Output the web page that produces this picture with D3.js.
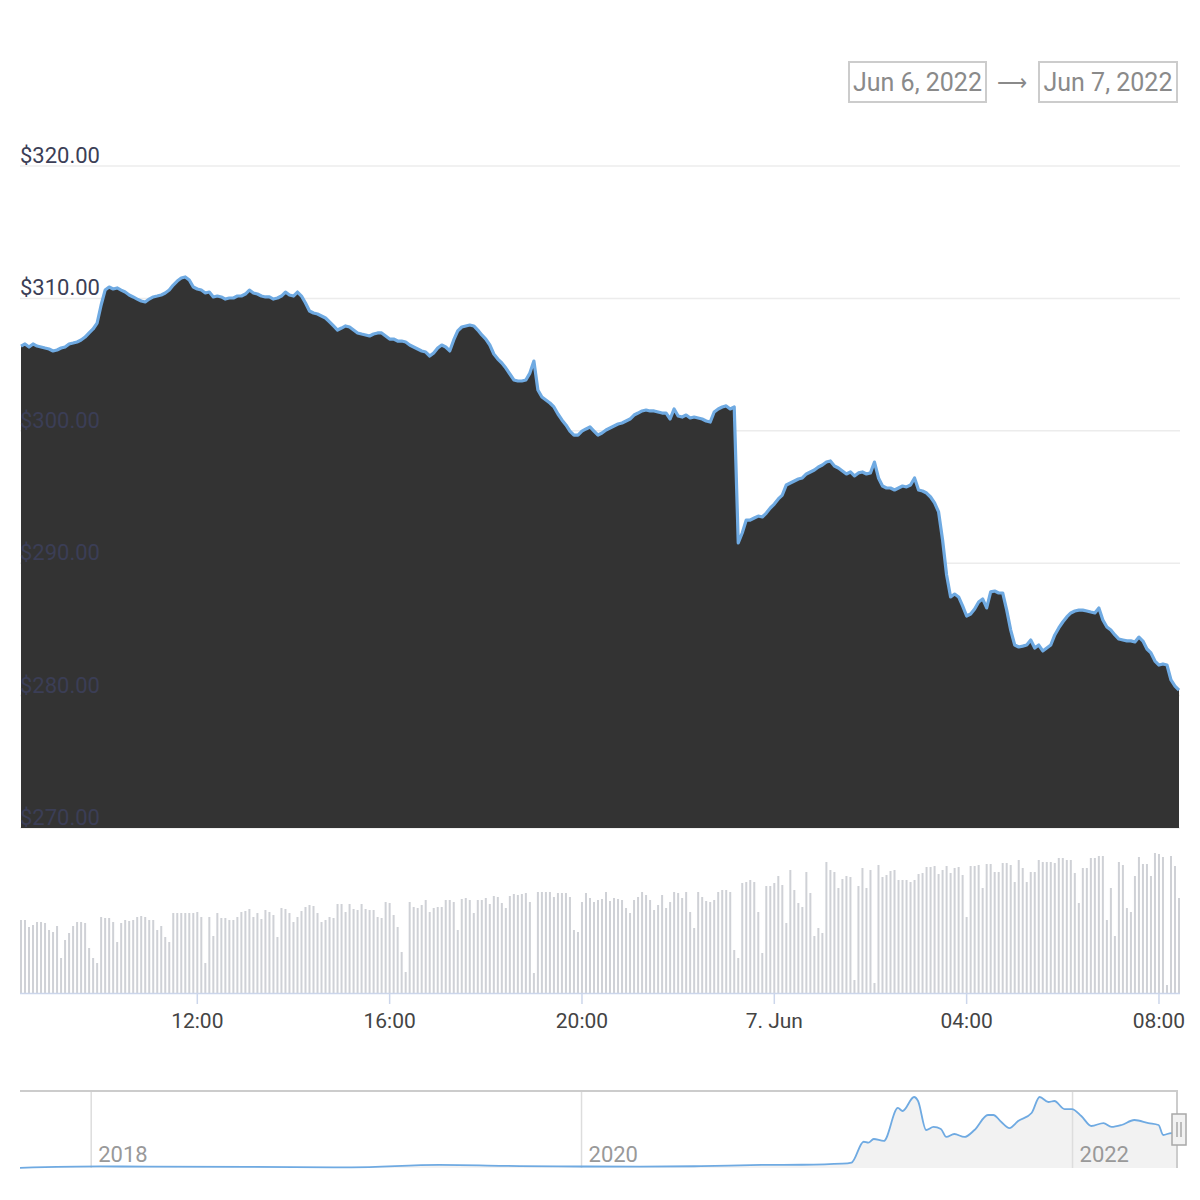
<!DOCTYPE html>
<html>
<head>
<meta charset="utf-8">
<script src="https://cdn.jsdelivr.net/npm/d3@7"></script>
<style>
  body { margin: 0; background: #fff; }
  svg { font-family: Roboto, "Noto Sans", sans-serif; display: block; }
</style>
</head>
<body>
<div id="chart"></div>
<script>
// price, 5 minute steps starting Jun 6 2022 08:20
const startTime = "2022-06-06T08:20:00Z";
const stepMinutes = 5;
const prices = [
  306.40,306.56,306.33,306.56,306.40,306.33,306.25,306.18,306.03,306.10,
  306.25,306.33,306.56,306.63,306.71,306.86,307.08,307.39,307.69,308.14,
  309.50,310.63,310.86,310.71,310.79,310.63,310.48,310.26,310.11,309.95,
  309.80,309.73,309.95,310.11,310.18,310.26,310.41,310.63,311.01,311.31,
  311.54,311.62,311.39,310.86,310.71,310.63,310.41,310.48,310.11,310.18,
  310.11,309.95,310.03,310.03,310.18,310.18,310.33,310.63,310.41,310.33,
  310.18,310.11,310.11,309.95,310.03,310.18,310.48,310.26,310.18,310.48,
  310.18,309.65,309.05,308.90,308.82,308.67,308.52,308.22,307.92,307.61,
  307.76,307.92,307.84,307.61,307.39,307.31,307.24,307.16,307.31,307.39,
  307.39,307.16,306.93,306.93,306.78,306.78,306.71,306.48,306.33,306.18,
  306.03,305.95,305.65,305.88,306.25,306.48,306.33,306.03,306.86,307.54,
  307.84,307.92,307.99,307.92,307.61,307.24,306.93,306.48,305.80,305.42,
  305.12,304.74,304.29,303.84,303.76,303.76,303.84,304.36,305.27,303.08,
  302.55,302.33,302.10,301.80,301.27,300.82,300.44,299.98,299.68,299.68,
  299.98,300.14,300.29,299.98,299.68,299.83,300.06,300.21,300.36,300.51,
  300.59,300.74,300.89,301.19,301.34,301.50,301.57,301.50,301.50,301.42,
  301.34,301.34,300.89,301.65,301.12,301.04,301.19,300.97,301.04,300.97,
  300.89,300.74,300.66,301.42,301.65,301.80,301.88,301.65,301.80,291.53,
  292.28,293.26,293.26,293.41,293.56,293.49,293.79,294.17,294.47,294.85,
  295.15,295.91,296.06,296.21,296.36,296.44,296.74,296.89,297.04,297.27,
  297.42,297.64,297.72,297.34,297.19,296.96,296.74,296.89,296.59,296.82,
  296.89,296.74,296.82,297.64,296.44,295.83,295.68,295.68,295.53,295.68,
  295.83,295.76,295.91,296.44,295.53,295.45,295.30,295.00,294.55,293.87,
  291.75,289.11,287.45,287.67,287.45,286.77,286.01,286.16,286.54,287.07,
  287.30,286.62,287.83,287.90,287.75,287.75,286.46,284.95,283.82,283.67,
  283.74,283.82,284.20,283.59,283.82,283.37,283.59,283.82,284.58,285.11,
  285.56,285.94,286.24,286.39,286.46,286.46,286.39,286.31,286.24,286.62,
  285.71,285.18,284.95,284.58,284.27,284.20,284.13,284.13,284.05,284.42,
  284.12,283.52,283.22,282.61,282.31,282.39,282.31,281.18,280.72,280.42
];
// volume (relative units), same 5 minute steps
const volumes = [
  73,73,66,68,71,71,70,63,61,67,35,53,60,67,71,71,70,45,35,30,
  76,75,75,71,51,70,73,72,73,76,77,76,73,73,63,67,56,51,80,80,
  80,80,80,80,81,76,30,76,57,80,75,75,73,73,76,81,82,84,76,80,
  74,83,81,78,56,85,84,80,71,76,82,86,88,87,80,71,73,76,75,89,
  89,81,89,84,83,89,84,83,83,76,75,91,90,78,66,41,21,
  91,86,85,88,93,81,85,86,86,93,93,91,63,94,95,93,80,93,93,95,
  89,97,96,90,85,97,99,98,99,100,91,20,101,101,101,101,96,100,100,100,
  96,63,61,91,100,95,91,93,94,101,92,95,94,93,85,80,93,96,101,98,
  93,83,88,98,85,91,101,100,95,101,81,65,101,96,92,91,93,101,103,103,
  101,43,35,110,111,113,111,81,40,107,107,110,117,108,70,123,103,90,
  86,121,100,57,65,60,131,123,121,105,114,117,116,13,107,125,105,123,10,128,
  116,118,122,123,113,113,113,111,113,119,120,126,126,127,119,123,127,120,125,126,
  118,76,127,127,128,105,129,129,121,121,130,130,128,111,133,125,111,121,121,133,
  131,131,131,130,135,135,133,133,120,90,125,125,135,135,137,137,73,105,57,131,
  128,85,81,117,136,129,129,117,140,139,136,8,137,127,95
];
const priceTicks = [270, 280, 290, 300, 310, 320];
const rangeLabels = ["Jun 6, 2022", "Jun 7, 2022"];

// navigator (long history)
const navDates = [
  "2017-09-17","2018-01-15","2018-03-28","2018-08-25","2019-01-23","2019-06-03",
  "2019-10-01","2020-01-01","2020-03-28","2020-06-27","2020-09-25","2020-11-24",
  "2021-01-23","2021-02-06","2021-02-24","2021-03-03","2021-03-11","2021-03-26",
  "2021-04-16","2021-04-23","2021-05-10","2021-05-16","2021-05-28","2021-06-08",
  "2021-06-19","2021-06-27","2021-07-09","2021-07-24","2021-08-08","2021-08-28",
  "2021-09-05","2021-09-17","2021-09-29","2021-10-12","2021-11-01","2021-11-13",
  "2021-11-26","2021-12-05","2021-12-20","2021-12-31","2022-01-14","2022-01-29",
  "2022-02-16","2022-02-28","2022-03-15","2022-04-03","2022-04-24","2022-05-09",
  "2022-05-16","2022-05-28","2022-06-07"
];
const navValues = [
  1.5,15,12,10,6,28,
  18,14,12,17,28,30,
  40,50,242,233,267,249,
  553,525,654,617,350,378,
  359,286,313,286,350,488,
  488,424,368,433,507,654,
  608,617,543,543,479,387,
  414,378,396,442,414,396,
  304,322,290
];

const width = 1200, height = 1200;
const left = 21, right = 1179;

const svg = d3.select("#chart").append("svg")
    .attr("width", width)
    .attr("height", height)
    .attr("viewBox", [0, 0, width, height]);

const t0 = new Date(startTime);
const times = prices.map((d, i) => new Date(t0.getTime() + i * stepMinutes * 60000));

const x = d3.scaleUtc()
    .domain([times[0], times[times.length - 1]])
    .range([left, right]);

const y = d3.scaleLinear()
    .domain([270, 320])
    .range([828, 166]);

// range selector boxes
const boxes = svg.append("g").attr("class", "range-boxes");
[[849, 137], [1039, 138]].forEach((b, i) => {
  boxes.append("rect")
      .attr("x", b[0]).attr("y", 62)
      .attr("width", b[1]).attr("height", 40)
      .attr("fill", "none")
      .attr("stroke", "#cccccc")
      .attr("stroke-width", 2);
  boxes.append("text")
      .attr("x", b[0] + b[1] / 2).attr("y", 91)
      .attr("text-anchor", "middle")
      .attr("font-size", 25)
      .attr("fill", "#8a8a8a")
      .text(rangeLabels[i]);
});
// thin long arrow between the boxes
boxes.append("text")
    .attr("x", 1012).attr("y", 90)
    .attr("text-anchor", "middle")
    .attr("font-size", 21)
    .attr("font-family", "'Noto Sans CJK SC', 'Noto Sans', sans-serif")
    .attr("fill", "#8a8a8a")
    .text("⟶");

// gridlines
svg.append("g")
    .selectAll("line")
    .data(priceTicks)
    .enter()
    .append("line")
        .attr("x1", 20).attr("x2", 1180)
        .attr("y1", d => y(d)).attr("y2", d => y(d))
        .attr("stroke", "#ececec")
        .attr("stroke-width", 1.5);

// price area + line
const pts = prices.map((p, i) => [times[i], p]);

svg.append("path")
    .datum(pts)
    .attr("fill", "#333333")
    .attr("d", d3.area()
        .x(d => x(d[0]))
        .y0(y(270))
        .y1(d => y(d[1])));

svg.append("path")
    .datum(pts)
    .attr("fill", "none")
    .attr("stroke", "#6faae2")
    .attr("stroke-width", 3.2)
    .attr("stroke-linejoin", "round")
    .attr("d", d3.line()
        .x(d => x(d[0]))
        .y(d => y(d[1])));

// y labels (sit on top, faint over the dark area)
svg.append("g")
    .selectAll("text")
    .data(priceTicks)
    .enter()
    .append("text")
        .attr("x", 20)
        .attr("y", d => y(d) - 3)
        .attr("font-size", 22)
        .attr("fill", "#3b3e56")
        .text(d => "$" + d3.format(".2f")(d));

// volume bars
const vy = d3.scaleLinear()
    .domain([0, d3.max(volumes)])
    .range([993, 853]);

svg.append("g")
    .attr("class", "volume")
    .selectAll("rect")
    .data(volumes)
    .enter()
    .append("rect")
        .attr("x", (d, i) => x(times[i]) - 1)
        .attr("y", d => vy(d))
        .attr("width", 2)
        .attr("height", d => vy(0) - vy(d))
        .attr("fill", "#cfd1d6");

// x axis
svg.append("line")
    .attr("x1", 20).attr("x2", 1180)
    .attr("y1", 993.5).attr("y2", 993.5)
    .attr("stroke", "#ccd6eb")
    .attr("stroke-width", 1.5);

const xTicks = x.ticks(d3.utcHour.every(4));
const fmtTick = d => d.getUTCHours() === 0 ? d3.utcFormat("%-d. %b")(d) : d3.utcFormat("%H:%M")(d);

svg.append("g")
    .selectAll("line")
    .data(xTicks)
    .enter()
    .append("line")
        .attr("x1", d => x(d)).attr("x2", d => x(d))
        .attr("y1", 993).attr("y2", 1004)
        .attr("stroke", "#ccd6eb")
        .attr("stroke-width", 1.5);

svg.append("g")
    .selectAll("text")
    .data(xTicks)
    .enter()
    .append("text")
        .attr("x", d => x(d))
        .attr("y", 1028)
        .attr("text-anchor", "middle")
        .attr("font-size", 21)
        .attr("fill", "#444")
        .text(fmtTick);

// navigator
const navPts = navDates.map((d, i) => [new Date(d + "T00:00:00Z"), navValues[i]]);
const nx = d3.scaleUtc()
    .domain([navPts[0][0], navPts[navPts.length - 1][0]])
    .range([20, 1178]);
const ny = d3.scaleLinear()
    .domain([0, 700])
    .range([1168, 1092]);

svg.append("path")
    .datum(navPts)
    .attr("fill", "#f2f2f2")
    .attr("d", d3.area()
        .x(d => nx(d[0]))
        .y0(1168)
        .y1(d => ny(d[1]))
        .curve(d3.curveMonotoneX));

const navTicks = nx.ticks(d3.utcYear.every(2));
svg.append("g")
    .selectAll("line")
    .data(navTicks)
    .enter()
    .append("line")
        .attr("x1", d => nx(d)).attr("x2", d => nx(d))
        .attr("y1", 1091).attr("y2", 1168)
        .attr("stroke", "#dddddd")
        .attr("stroke-width", 1.5);

svg.append("g")
    .selectAll("text")
    .data(navTicks)
    .enter()
    .append("text")
        .attr("x", d => nx(d) + 7)
        .attr("y", 1162)
        .attr("font-size", 22)
        .attr("fill", "#999")
        .text(d3.utcFormat("%Y"));

svg.append("path")
    .datum(navPts)
    .attr("fill", "none")
    .attr("stroke", "#6faae2")
    .attr("stroke-width", 1.8)
    .attr("d", d3.line()
        .x(d => nx(d[0]))
        .y(d => ny(d[1]))
        .curve(d3.curveMonotoneX));

// outline + handle
svg.append("path")
    .attr("d", "M20,1091 H1177 V1168")
    .attr("fill", "none")
    .attr("stroke", "#cccccc")
    .attr("stroke-width", 2);

const handle = svg.append("g").attr("transform", "translate(1172,1114)");
handle.append("rect")
    .attr("width", 14).attr("height", 31)
    .attr("fill", "#f2f2f2")
    .attr("stroke", "#a8a8a8")
    .attr("stroke-width", 1.5);
handle.append("line").attr("x1", 5).attr("x2", 5).attr("y1", 8).attr("y2", 23).attr("stroke", "#a8a8a8").attr("stroke-width", 1.5);
handle.append("line").attr("x1", 9).attr("x2", 9).attr("y1", 8).attr("y2", 23).attr("stroke", "#a8a8a8").attr("stroke-width", 1.5);
</script>
</body>
</html>
